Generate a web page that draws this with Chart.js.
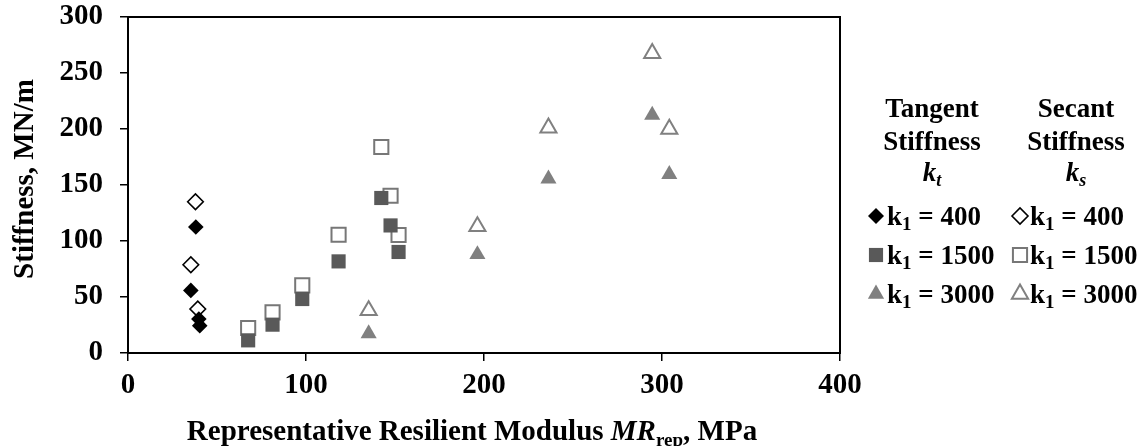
<!DOCTYPE html>
<html>
<head>
<meta charset="utf-8">
<script src="https://cdn.jsdelivr.net/npm/chart.js@4.4.1/dist/chart.umd.min.js"></script>
<style>
    html, body { margin: 0; padding: 0; background: #fff; }
    #wrap { width: 1146px; height: 446px; position: relative; }
</style>
</head>
<body>
<div id="wrap"><canvas id="stiffChart"></canvas></div>
<script>
// x = representative resilient modulus MR_rep (MPa), y = stiffness (MN/m)
const mr400 = [38.1, 35.3, 39.8, 40.3];
const kt400 = [112.5, 55.9, 30.4, 24.4];
const mr400s = [37.9, 35.3, 39.2];
const ks400 = [135, 78.8, 39.3];

const mr1500 = [67.5, 81.2, 97.9, 118.3, 142.3, 147.5, 152];
const kt1500 = [11.3, 25.3, 48.2, 81.8, 138.4, 113.9, 90.2];
const ks1500 = [22.3, 36.3, 60.4, 105.6, 183.9, 140.4, 105.4];

const mr3000 = [135.2, 196.3, 236.2, 294.5, 304.1];
const kt3000 = [17.3, 88, 155.5, 212.5, 159.6];
const ks3000 = [38, 113, 201, 267.6, 200];

const xTicks = [0, 100, 200, 300, 400];
const yTicks = [0, 50, 100, 150, 200, 250, 300];
const k1Labels = ['400', '1500', '3000'];

const SERIF = '"Liberation Serif", "Times New Roman", serif';
const DARK = '#595959';
const MID = '#808080';

function pts(xs, ys) {
    return xs.map((x, i) => ({ x: x, y: ys[i] }));
}

// marker styles, shared by plot and legend
const styles = {
    kt400:  { pointStyle: 'rectRot', bg: '#000', border: '#000', bw: 0 },
    kt1500: { pointStyle: 'rect', bg: DARK, border: DARK, bw: 0 },
    kt3000: { pointStyle: 'triangle', bg: MID, border: MID, bw: 0 },
    ks400:  { pointStyle: 'rectRot', bg: '#fff', border: '#000', bw: 1.6 },
    ks1500: { pointStyle: 'rect', bg: '#fff', border: '#777', bw: 2 },
    ks3000: { pointStyle: 'triangle', bg: '#fff', border: MID, bw: 2 }
};
const plotRadius = { rectRot: 7.8, rect: 10, triangle: 9.3 };
const legendRadius = { rectRot: 8, rect: 10, triangle: 9.4 };

function ds(key, xs, ys) {
    const s = styles[key];
    return {
        label: key,
        data: pts(xs, ys),
        pointStyle: s.pointStyle,
        pointRadius: plotRadius[s.pointStyle],
        pointBackgroundColor: s.bg,
        pointBorderColor: s.border,
        pointBorderWidth: s.bw,
        showLine: false
    };
}

// draws a row of text pieces with different fonts / offsets
function drawRuns(ctx, runs, x, baseline, align) {
    let total = 0;
    runs.forEach(r => {
        ctx.font = r.font;
        r.w = ctx.measureText(r.text).width;
        total += r.w;
    });
    let cx = align === 'center' ? x - total / 2 : x;
    runs.forEach(r => {
        ctx.font = r.font;
        ctx.fillText(r.text, cx, baseline + (r.dy || 0));
        cx += r.w;
    });
}

const decorPlugin = {
    id: 'decor',
    afterDraw(chart) {
        const ctx = chart.ctx;
        const a = chart.chartArea;
        ctx.save();

        // plot frame
        ctx.strokeStyle = '#000';
        ctx.lineWidth = 2;
        ctx.strokeRect(a.left, a.top, a.right - a.left, a.bottom - a.top);

        ctx.fillStyle = '#000';
        ctx.textAlign = 'left';
        ctx.textBaseline = 'alphabetic';

        // x axis title
        const b29 = 'bold 29px ' + SERIF;
        drawRuns(ctx, [
            { text: 'Representative Resilient Modulus ', font: b29 },
            { text: 'MR', font: 'italic bold 29px ' + SERIF },
            { text: 'rep', font: 'bold 19px ' + SERIF, dy: 6 },
            { text: ', MPa', font: b29 }
        ], 472, 440, 'center');

        // y axis title
        ctx.save();
        ctx.translate(33, 179);
        ctx.rotate(-Math.PI / 2);
        drawRuns(ctx, [{ text: 'Stiffness, MN/m', font: b29 }], 0, 0, 'center');
        ctx.restore();

        // legend: two columns, tangent and secant
        const b27 = 'bold 27px ' + SERIF;
        const bi27 = 'italic bold 27px ' + SERIF;
        const bi18 = 'italic bold 18px ' + SERIF;
        const cols = [
            { cx: 932, head: 'Tangent', sub: 't', mx: 876, tx: 887, keys: ['kt400', 'kt1500', 'kt3000'] },
            { cx: 1076, head: 'Secant', sub: 's', mx: 1020, tx: 1030, keys: ['ks400', 'ks1500', 'ks3000'] }
        ];
        const rowBase = [225, 264, 303];
        cols.forEach(c => {
            drawRuns(ctx, [{ text: c.head, font: b27 }], c.cx, 117, 'center');
            drawRuns(ctx, [{ text: 'Stiffness', font: b27 }], c.cx, 150, 'center');
            drawRuns(ctx, [
                { text: 'k', font: bi27 },
                { text: c.sub, font: bi18, dy: 5 }
            ], c.cx, 181, 'center');

            c.keys.forEach((key, i) => {
                const s = styles[key];
                ctx.save();
                ctx.fillStyle = s.bg;
                ctx.strokeStyle = s.border;
                ctx.lineWidth = s.bw;
                Chart.helpers.drawPoint(ctx, {
                    pointStyle: s.pointStyle,
                    radius: legendRadius[s.pointStyle],
                    rotation: 0,
                    borderWidth: s.bw
                }, c.mx, rowBase[i] - 9);
                ctx.restore();
                drawRuns(ctx, [
                    { text: 'k', font: b27 },
                    { text: '1', font: 'bold 19px ' + SERIF, dy: 5 },
                    { text: ' = ' + k1Labels[i], font: b27 }
                ], c.tx, rowBase[i], 'left');
            });
        });

        ctx.restore();
    }
};

const tickFont = { family: SERIF, size: 29, weight: 'bold' };

new Chart(document.getElementById('stiffChart').getContext('2d'), {
    type: 'scatter',
    data: {
        datasets: [
            ds('kt400', mr400, kt400),
            ds('kt1500', mr1500, kt1500),
            ds('kt3000', mr3000, kt3000),
            ds('ks400', mr400s, ks400),
            ds('ks1500', mr1500, ks1500),
            ds('ks3000', mr3000, ks3000)
        ]
    },
    options: {
        responsive: true,
        maintainAspectRatio: false,
        animation: false,
        layout: { padding: { left: 0, top: 17, right: 306, bottom: 0 } },
        scales: {
            x: {
                type: 'linear',
                min: 0,
                max: 400,
                afterBuildTicks: s => { s.ticks = xTicks.map(v => ({ value: v })); },
                afterFit: s => { s.height = 93; s.paddingLeft = 0; s.paddingRight = 0; },
                ticks: { font: tickFont, color: '#000', padding: 7, maxRotation: 0 },
                grid: { drawOnChartArea: false, drawTicks: true, tickLength: 8, color: '#000', lineWidth: 1.5 },
                border: { display: false }
            },
            y: {
                type: 'linear',
                min: 0,
                max: 300,
                afterBuildTicks: s => { s.ticks = yTicks.map(v => ({ value: v })); },
                afterFit: s => { s.width = 128; s.paddingTop = 0; s.paddingBottom = 0; },
                ticks: { font: tickFont, color: '#000', padding: 17 },
                grid: { drawOnChartArea: false, drawTicks: true, tickLength: 8, color: '#000', lineWidth: 1.5 },
                border: { display: false }
            }
        },
        plugins: {
            legend: { display: false },
            tooltip: { enabled: false }
        }
    },
    plugins: [decorPlugin]
});
</script>
</body>
</html>
